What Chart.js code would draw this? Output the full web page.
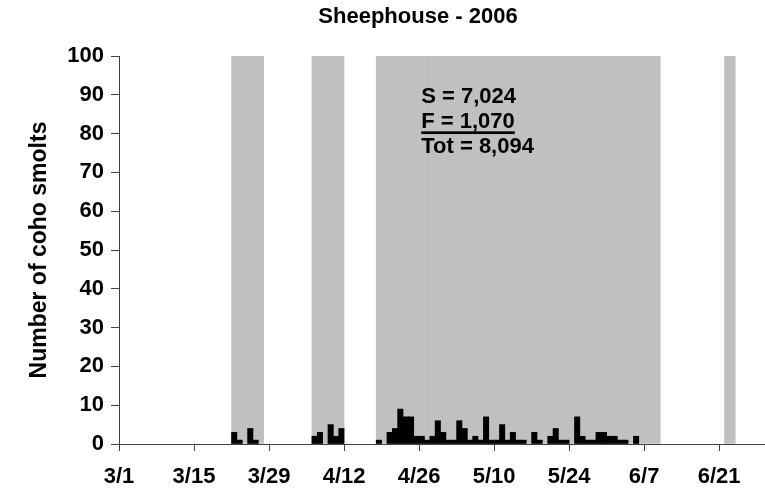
<!DOCTYPE html>
<html>
<head>
<meta charset="utf-8">
<script src="https://cdn.jsdelivr.net/npm/chart.js@4.4.1/dist/chart.umd.min.js"></script>
<style>
  html, body { margin: 0; padding: 0; background: #fff; overflow: hidden; }
  #wrap { position: relative; width: 836px; height: 494px; }
</style>
</head>
<body>
<div id="wrap"><canvas id="chart" width="836" height="494"></canvas></div>
<script>
// Sheephouse trap, 2006 season: daily coho smolt catch counted from 1 March.
const seasonStart = new Date(2006, 2, 1);
const chartTitle = 'Sheephouse - 2006';
const yAxisTitle = 'Number of coho smolts';

const marchCounts = [0,0,0,0,0,0,0,0,0,0, 0,0,0,0,0,0,0,0,0,0, 0,3,1,0,4,1,0,0,0,0, 0];
const aprilCounts = [0,0,0,0,0,2,3,0,5,2, 4,0,0,0,0,0,0,1,0,3, 4,9,7,7,2,2,1,2,6,3];
const mayCounts   = [1,1,6,4,1,2,1,7,1,1, 5,1,3,1,1,0,3,1,0,2, 4,1,1,0,7,2,1,1,3,3, 2];
const juneCounts  = [2,1,1,0,2,0,0,0,0,0, 0,0,0,0,0,0,0,0,0,0, 0,0,0,0,0,0,0,0,0,0];

// Periods shaded grey (first and last day, inclusive)
const shadedPeriods = [['3/22', '3/27'], ['4/6', '4/11'], ['4/18', '6/9'], ['6/22', '6/23']];

// Date axis labels, every two weeks
const tickLabels = ['3/1', '3/15', '3/29', '4/12', '4/26', '5/10', '5/24', '6/7', '6/21'];

// Season estimates
const statLabels = ['S', 'F', 'Tot'];
const statValues = [7024, 1070, 8094];

const FONT = "'Liberation Sans', Arial, Helvetica, sans-serif";
const Y_MAX = 100;

function dayIndex(md) {
  const [m, d] = md.split('/').map(Number);
  return Math.round((new Date(2006, m - 1, d) - seasonStart) / 86400000);
}
function withCommas(v) {
  return String(v).replace(/\B(?=(\d{3})+(?!\d))/g, ',');
}

const dailyCounts = [...marchCounts, ...aprilCounts, ...mayCounts, ...juneCounts];
const shadeRanges = shadedPeriods.map(([a, b]) => [dayIndex(a), dayIndex(b)]);
const isShaded = i => shadeRanges.some(([a, b]) => i >= a && i <= b);

// each day fills the slot from its own date to the next one; empty days get no bar
const smoltPoints = dailyCounts.map((v, i) => ({ x: i + 0.5, y: v > 0 ? v : null }));
const shadePoints = dailyCounts.map((_, i) => ({ x: i + 0.5, y: isShaded(i) ? Y_MAX : null }));
const tickDays = tickLabels.map(dayIndex);

const statsBlock = {
  id: 'statsBlock',
  afterDatasetsDraw(chart, args, opts) {
    const { ctx, scales: { x, y } } = chart;
    const left = x.getPixelForValue(opts.x);
    let base = y.getPixelForValue(opts.y);
    ctx.save();
    ctx.font = `bold ${opts.size}px ${FONT}`;
    ctx.fillStyle = '#000';
    ctx.textAlign = 'left';
    ctx.textBaseline = 'alphabetic';
    statLabels.forEach((lab, k) => {
      const txt = `${lab} = ${withCommas(statValues[k])}`;
      ctx.fillText(txt, left, base);
      if (k === opts.underlineRow) {
        const w = ctx.measureText(txt).width;
        ctx.fillRect(left, base + 3.3, w, 2.7);
      }
      base += opts.lineGap;
    });
    ctx.restore();
  }
};

const tickFont = { family: FONT, size: 22, weight: 'bold' };

new Chart(document.getElementById('chart'), {
  type: 'bar',
  data: {
    datasets: [
      {
        label: 'Coho smolts',
        data: smoltPoints,
        backgroundColor: '#000000',
        grouped: false,
        barPercentage: 1,
        categoryPercentage: 1,
        borderWidth: 0,
        order: 0
      },
      {
        label: 'Shaded period',
        data: shadePoints,
        backgroundColor: '#c0c0c0',
        grouped: false,
        barPercentage: 1,
        categoryPercentage: 1,
        borderWidth: 0,
        order: 1
      }
    ]
  },
  options: {
    responsive: false,
    animation: false,
    devicePixelRatio: 1,
    layout: { padding: 0 },
    plugins: {
      legend: { display: false },
      tooltip: { enabled: false },
      title: {
        display: true,
        text: chartTitle,
        color: '#000',
        font: { family: FONT, size: 22, weight: 'bold' },
        padding: { top: 4, bottom: 25.6 }
      },
      statsBlock: { x: 56.4, y: 87.8, size: 22, lineGap: 24.7, underlineRow: 1 }
    },
    scales: {
      x: {
        type: 'linear',
        offset: false,
        min: 0,
        max: 133.8,
        bounds: 'data',
        afterBuildTicks: s => { s.ticks = tickDays.map(v => ({ value: v })); },
        afterFit: s => { s.height = 50; },
        ticks: {
          autoSkip: false,
          maxRotation: 0,
          padding: 13,
          color: '#000',
          font: tickFont,
          callback: v => tickLabels[tickDays.indexOf(v)]
        },
        grid: { offset: false, drawOnChartArea: false, drawTicks: true, tickLength: 7, color: '#404040' },
        border: { display: true, color: '#404040', width: 1 }
      },
      y: {
        min: 0,
        max: Y_MAX,
        afterFit: s => { s.width = 119; },
        ticks: { stepSize: 10, padding: 7, color: '#000', font: tickFont },
        grid: { drawOnChartArea: false, drawTicks: true, tickLength: 8, color: '#404040' },
        border: { display: true, color: '#404040', width: 1 },
        title: {
          display: true,
          text: yAxisTitle,
          color: '#000',
          font: { family: FONT, size: 23, weight: 'bold' },
          padding: { top: 26, bottom: 0 }
        }
      }
    }
  },
  plugins: [statsBlock]
});
</script>
</body>
</html>
